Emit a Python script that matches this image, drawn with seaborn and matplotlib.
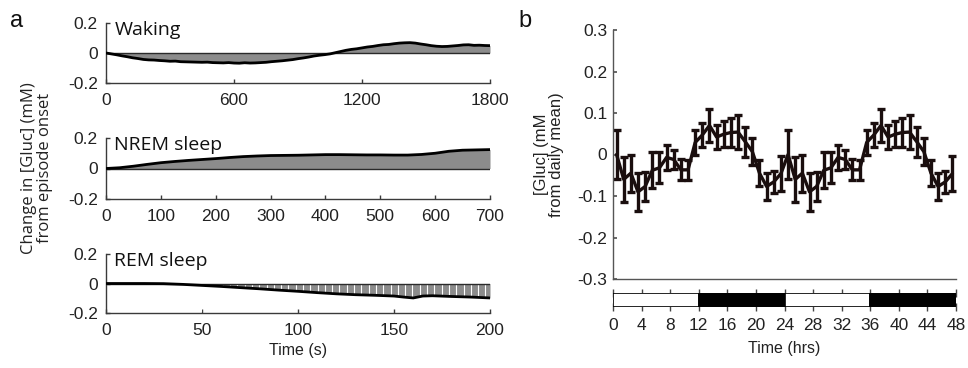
import matplotlib
matplotlib.use("Agg")
import matplotlib.pyplot as plt
import numpy as np
import pandas as pd
import seaborn as sns

# ---------------- data ----------------
wake_t = list(range(0, 1801, 25))
wake_v = [0.000, -0.006, -0.012, -0.019, -0.025, -0.032, -0.037, -0.043, -0.046, -0.047,
          -0.050, -0.052, -0.055, -0.054, -0.058, -0.059, -0.060, -0.061, -0.062, -0.061,
          -0.064, -0.065, -0.066, -0.064, -0.067, -0.068, -0.065, -0.067, -0.066, -0.064,
          -0.062, -0.058, -0.055, -0.052, -0.048, -0.044, -0.038, -0.033, -0.027, -0.020,
          -0.015, -0.011, -0.006, 0.002, 0.010, 0.018, 0.024, 0.028, 0.034, 0.040,
          0.044, 0.050, 0.055, 0.057, 0.062, 0.066, 0.068, 0.069, 0.066, 0.060,
          0.055, 0.049, 0.045, 0.043, 0.044, 0.047, 0.050, 0.054, 0.055, 0.051,
          0.052, 0.050, 0.049]

nrem_t = [0, 25, 50, 75, 100, 125, 150, 175, 200, 225, 250, 275, 300, 325, 350, 375,
          400, 425, 450, 475, 500, 525, 550, 575, 600, 625, 650, 675, 700]
nrem_v = [0.0, 0.005, 0.015, 0.027, 0.038, 0.046, 0.053, 0.059, 0.065, 0.072, 0.078,
          0.082, 0.085, 0.086, 0.087, 0.089, 0.091, 0.091, 0.090, 0.089, 0.089, 0.088,
          0.088, 0.092, 0.100, 0.113, 0.120, 0.122, 0.124]

rem_t = [0, 10, 20, 30, 40, 50, 60, 70, 80, 90, 100, 110, 120, 130, 140, 150, 155,
         160, 165, 170, 180, 190, 200]
rem_v = [0.0, 0.0, 0.0, -0.001, -0.006, -0.013, -0.020, -0.028, -0.036, -0.045, -0.053,
         -0.062, -0.070, -0.076, -0.080, -0.085, -0.092, -0.098, -0.085, -0.083, -0.088,
         -0.092, -0.098]

panel_titles = ["Waking", "NREM sleep", "REM sleep"]
wake_ticks = [0, 600, 1200, 1800]
nrem_ticks = [0, 100, 200, 300, 400, 500, 600, 700]
rem_ticks = [0, 50, 100, 150, 200]
a_yticks = [-0.2, 0, 0.2]
a_yticklabels = ["-0.2", "0", "0.2"]

hours = [0.5, 1.5, 2.5, 3.5, 4.5, 5.5, 6.5, 7.5, 8.5, 9.5, 10.5, 11.5,
         12.5, 13.5, 14.5, 15.5, 16.5, 17.5, 18.5, 19.5, 20.5, 21.5, 22.5, 23.5,
         24.5, 25.5, 26.5, 27.5, 28.5, 29.5, 30.5, 31.5, 32.5, 33.5, 34.5, 35.5,
         36.5, 37.5, 38.5, 39.5, 40.5, 41.5, 42.5, 43.5, 44.5, 45.5, 46.5, 47.5]
gluc_day = [0.0, -0.06, -0.045, -0.09, -0.077, -0.038, -0.032, -0.007, -0.012, -0.037,
            -0.037, 0.029, 0.047, 0.07, 0.042, 0.049, 0.053, 0.054, 0.031, 0.007,
            -0.045, -0.077, -0.066, -0.046]
gluc_err_day = [0.06, 0.054, 0.045, 0.045, 0.036, 0.043, 0.037, 0.031, 0.022, 0.025,
                0.024, 0.029, 0.028, 0.04, 0.029, 0.032, 0.034, 0.041, 0.036, 0.032,
                0.032, 0.032, 0.026, 0.042]
gluc_mean = gluc_day + gluc_day          # double-plotted 24 h
gluc_err = gluc_err_day + gluc_err_day
b_yticks = [-0.3, -0.2, -0.1, 0, 0.1, 0.2, 0.3]
b_yticklabels = ["-0.3", "-0.2", "-0.1", "0", "0.1", "0.2", "0.3"]
b_xticks = [0, 4, 8, 12, 16, 20, 24, 28, 32, 36, 40, 44, 48]
ld_start = [0, 12, 24, 36]
ld_len = [12, 12, 12, 12]
ld_color = ["white", "black", "white", "black"]

# ---------------- style ----------------
sns.set_theme(style="ticks")
plt.rcParams["font.family"] = ["Liberation Sans", "DejaVu Sans"]
plt.rcParams["axes.linewidth"] = 1.0
TICK_FS = 12.5
CAL = ["Open Sans", "DejaVu Sans"]
SPINE = "#3a3a3a"
FILL = "#8c8c8c"
LINEC = "#1a0e0e"
TXT = "#222222"

fig = plt.figure(figsize=(9.68, 3.68), dpi=100)

W, H = 968.0, 368.0
def fax(l, t, r, b):
    return fig.add_axes([l / W, 1 - b / H, (r - l) / W, (b - t) / H])

# ---------------- panel a ----------------
a_boxes = [(106, 23, 490, 83), (106, 138, 490, 199), (106, 254, 490, 313)]
traces = [(wake_t, wake_v, 1800, wake_ticks),
          (nrem_t, nrem_v, 700, nrem_ticks),
          (rem_t, rem_v, 200, rem_ticks)]
for i, (box, (t, v, xmax, ticks)) in enumerate(zip(a_boxes, traces)):
    ax = fax(*box)
    df = pd.DataFrame({"t": t, "v": v})
    ax.fill_between(df["t"], 0, df["v"], color=FILL, lw=0, zorder=1)
    if i == 2:
        ax.vlines(np.arange(0, 200, 3.8), -0.19, 0, color="white", lw=0.8, zorder=1.5)
    ax.axhline(0, color="#2a2a2a", lw=1.0, zorder=2)
    sns.lineplot(data=df, x="t", y="v", ax=ax, color="black", lw=2.0, zorder=3)
    ax.set_xlim(0, xmax)
    ax.set_ylim(-0.2, 0.2)
    ax.set_xticks(ticks)
    ax.set_xticklabels([str(k) for k in ticks])
    ax.set_yticks(a_yticks)
    ax.set_yticklabels(a_yticklabels)
    ax.set_xlabel("")
    ax.set_ylabel("")
    for s in ["top", "right"]:
        ax.spines[s].set_visible(False)
    for s in ["left", "bottom"]:
        ax.spines[s].set_color(SPINE)
    ax.tick_params(axis="y", direction="in", length=3, width=1, color=SPINE,
                   labelsize=TICK_FS, pad=6, labelcolor=TXT)
    ax.tick_params(axis="x", direction="in", length=3, width=1, color=SPINE,
                   labelsize=TICK_FS, pad=7, labelcolor=TXT)
    ax.text(0.022, 1.04, panel_titles[i], transform=ax.transAxes, ha="left", va="top",
            fontsize=14, family=CAL, color="#111111")
    if i == 2:
        ax.set_xlabel("Time (s)", fontsize=11.5, labelpad=4, color=TXT)

fig.text(37 / W, 1 - 168 / H, "Change in [Gluc] (mM)\nfrom episode onset", rotation=90,
         ha="center", va="center", fontsize=12, family=CAL, color=TXT,
         linespacing=1.0)
fig.text(17 / W, 1 - 21 / H, "a", ha="center", va="center", fontsize=17, color="#111111")

# ---------------- panel b ----------------
axb = fax(613, 30, 956, 279)
axb.errorbar(hours, gluc_mean, yerr=gluc_err, fmt="none", ecolor=LINEC,
             elinewidth=2.4, capsize=3.2, capthick=2.4, zorder=2)
sns.lineplot(x=hours, y=gluc_mean, ax=axb, color=LINEC, lw=2.4, zorder=3)
axb.set_xlim(0, 48)
axb.set_ylim(-0.3, 0.3)
axb.set_yticks(b_yticks)
axb.set_yticklabels(b_yticklabels)
axb.set_xticks([])
for s in ["top", "right"]:
    axb.spines[s].set_visible(False)
for s in ["left", "bottom"]:
    axb.spines[s].set_color("#555555")
axb.tick_params(axis="y", direction="in", length=3, color="#555555",
                labelsize=TICK_FS, pad=4, labelcolor=TXT)
axb.set_ylabel("[Gluc] (mM\nfrom daily mean)", fontsize=12, color=TXT,
               labelpad=10, linespacing=1.0)

axl = fax(613, 293, 956, 307)
axl.barh([0, 0, 0, 0], ld_len, left=ld_start, color=ld_color, edgecolor="black",
         height=1.0, lw=1.2)
axl.set_xlim(0, 48)
axl.set_ylim(-0.5, 0.5)
axl.set_yticks([])
axl.set_xticks(b_xticks)
axl.set_xticklabels([str(k) for k in b_xticks])
for s in axl.spines.values():
    s.set_visible(False)
axl.tick_params(axis="x", direction="inout", length=6, width=1, color="#444444",
                top=True, bottom=True, labelsize=TICK_FS, pad=5,
                labelcolor=TXT)
axl.set_xlabel("Time (hrs)", fontsize=11.5, labelpad=6, color=TXT)
fig.text(525 / W, 1 - 21 / H, "b", ha="center", va="center", fontsize=17, color="#111111")

fig.savefig("out.png", dpi=100, facecolor="white")
